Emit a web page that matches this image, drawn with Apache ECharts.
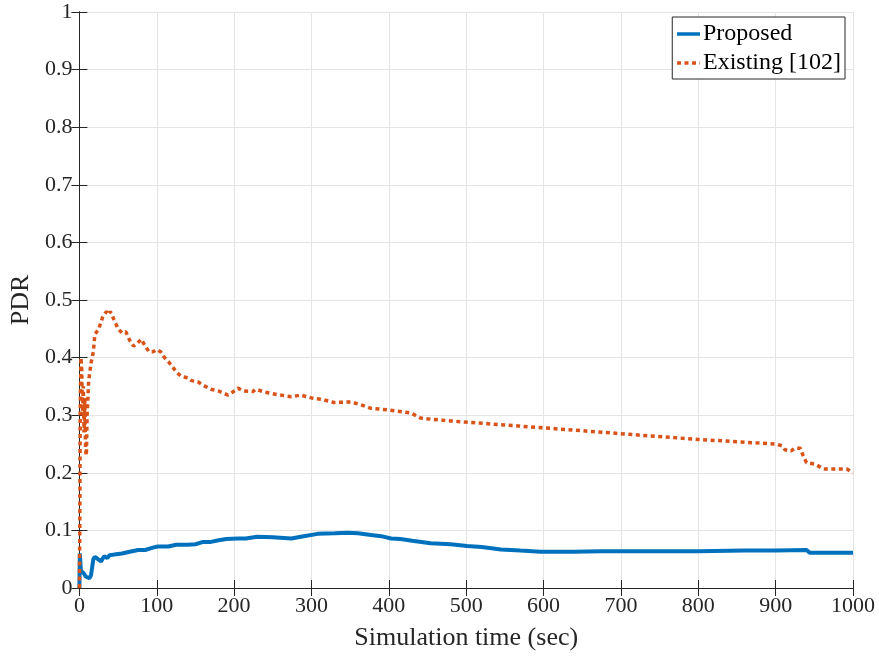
<!DOCTYPE html>
<html>
<head>
<meta charset="utf-8">
<script src="https://cdn.jsdelivr.net/npm/echarts@6/dist/echarts.min.js"></script>
<style>
  html, body { margin: 0; padding: 0; background: #fff; }
  #chart { width: 879px; height: 656px; }
</style>
</head>
<body>
<div id="chart"></div>
<script>
// values
const seriesNames = ['Proposed', 'Existing [102]'];

const propX = [0, 0.5, 1, 2, 4, 6, 8, 10, 13, 15, 18, 20, 24, 28, 32, 36, 39, 45, 55, 65, 76, 85, 95, 101, 115, 125, 140, 150, 160, 170, 180, 190, 205, 215, 230, 250, 274, 290, 308, 330, 347, 360, 377, 390, 403, 415, 430, 454, 480, 501, 520, 545, 570, 596, 640, 674, 738, 800, 860, 900, 940, 944, 1000];
const propY = [0, 0.06, 0.05, 0.03, 0.03, 0.025, 0.02, 0.022, 0.017, 0.022, 0.05, 0.054, 0.05, 0.046, 0.055, 0.052, 0.057, 0.058, 0.06, 0.063, 0.066, 0.066, 0.07, 0.072, 0.072, 0.075, 0.075, 0.076, 0.08, 0.08, 0.083, 0.085, 0.086, 0.086, 0.089, 0.088, 0.086, 0.09, 0.094, 0.095, 0.096, 0.095, 0.092, 0.09, 0.086, 0.085, 0.082, 0.0776, 0.076, 0.073, 0.071, 0.067, 0.065, 0.063, 0.063, 0.0637, 0.0637, 0.064, 0.065, 0.065, 0.066, 0.0613, 0.0613];

const existX = [0, 0.5, 1, 2, 3, 4, 5, 6, 7, 8, 9, 10, 12, 15, 18, 20, 25, 30, 35, 38, 40, 45, 50, 55, 60, 65, 70, 75, 80, 85, 90, 95, 100, 105, 110, 115, 120, 125, 132, 140, 145, 153, 160, 170, 180, 192, 198, 205, 212, 224, 228, 240, 255, 274, 286, 300, 315, 329, 351, 364, 377, 400, 428, 441, 455, 480, 540, 600, 660, 738, 800, 860, 900, 908, 912, 920, 925, 932, 936, 940, 951, 962, 992, 1000];
const existY = [0, 0.1, 0.3, 0.4, 0.38, 0.3, 0.35, 0.27, 0.33, 0.24, 0.23, 0.3, 0.36, 0.39, 0.41, 0.44, 0.45, 0.47, 0.48, 0.475, 0.48, 0.465, 0.45, 0.443, 0.445, 0.43, 0.42, 0.425, 0.432, 0.42, 0.41, 0.41, 0.414, 0.41, 0.4, 0.393, 0.385, 0.375, 0.367, 0.365, 0.36, 0.358, 0.352, 0.345, 0.342, 0.335, 0.34, 0.347, 0.342, 0.341, 0.345, 0.34, 0.336, 0.332, 0.335, 0.33, 0.327, 0.322, 0.323, 0.318, 0.312, 0.309, 0.304, 0.295, 0.293, 0.29, 0.284, 0.278, 0.272, 0.264, 0.258, 0.253, 0.25, 0.247, 0.24, 0.238, 0.243, 0.2425, 0.228, 0.2175, 0.215, 0.2066, 0.2066, 0.2];

const xTicks = [0, 100, 200, 300, 400, 500, 600, 700, 800, 900, 1000];
const yTicks = [0, 0.1, 0.2, 0.3, 0.4, 0.5, 0.6, 0.7, 0.8, 0.9, 1];

function pairs(xs, ys) {
    return xs.map((x, i) => [x, ys[i]]);
}

// pick the tick label that matches an axis value
function tickText(list) {
    return v => {
        let hit = list.find(t => Math.abs(t - v) < 1e-9);
        return hit === undefined ? '' : String(hit);
    };
}

const fontFam = 'Liberation Serif';
const axisColor = '#262626';
const gridColor = '#e5e5e5';

let chart = echarts.init(document.getElementById('chart'), null, { renderer: 'canvas' });

let option = {
    backgroundColor: '#fff',
    animation: false,
    textStyle: { fontFamily: fontFam },
    grid: { left: 78, right: 26, top: 12, bottom: 68, containLabel: false },
    legend: {
        orient: 'vertical',
        right: 34,
        top: 17,
        data: seriesNames,
        backgroundColor: '#fff',
        borderColor: axisColor,
        borderWidth: 1,
        borderRadius: 0,
        padding: [5, 4, 4, 3],
        itemGap: 5,
        itemWidth: 23,
        itemHeight: 24,
        itemStyle: { opacity: 0 },
        lineStyle: { width: 3.5 },
        textStyle: { fontFamily: fontFam, fontSize: 24, color: '#000', padding: [0, 0, 0, -2] }
    },
    xAxis: [{
        type: 'value',
        min: 0, max: 1000, interval: 100,
        name: 'Simulation time (sec)',
        nameLocation: 'middle',
        nameGap: 37,
        nameTextStyle: { fontFamily: fontFam, fontSize: 26, color: axisColor },
        axisLine: { show: true, onZero: false, lineStyle: { color: axisColor, width: 1 } },
        axisTick: { show: true, inside: true, length: 8, lineStyle: { color: axisColor } },
        axisLabel: { fontFamily: fontFam, fontSize: 22, color: axisColor, margin: 7, formatter: tickText(xTicks) },
        splitLine: { show: true, lineStyle: { color: gridColor, width: 1 } }
    }, {
        type: 'value', position: 'top',
        min: 0, max: 1000, interval: 100,
        axisLine: { show: true, lineStyle: { color: axisColor, width: 1 } },
        axisTick: { show: true, inside: true, length: 8, lineStyle: { color: axisColor } },
        axisLabel: { show: false },
        splitLine: { show: false }
    }],
    yAxis: [{
        type: 'value',
        min: 0, max: 1, interval: 0.1,
        name: 'PDR',
        nameLocation: 'middle',
        nameGap: 41,
        nameRotate: 90,
        nameTextStyle: { fontFamily: fontFam, fontSize: 26, color: axisColor },
        axisLine: { show: true, onZero: false, lineStyle: { color: axisColor, width: 1 } },
        axisTick: { show: true, inside: true, length: 8, lineStyle: { color: axisColor } },
        axisLabel: { fontFamily: fontFam, fontSize: 22, color: axisColor, margin: 7, formatter: tickText(yTicks) },
        splitLine: { show: true, lineStyle: { color: gridColor, width: 1 } }
    }, {
        type: 'value', position: 'right',
        min: 0, max: 1, interval: 0.1,
        axisLine: { show: true, lineStyle: { color: axisColor, width: 1 } },
        axisTick: { show: true, inside: true, length: 8, lineStyle: { color: axisColor } },
        axisLabel: { show: false },
        splitLine: { show: false }
    }],
    series: [{
        name: seriesNames[0],
        type: 'line',
        data: pairs(propX, propY),
        showSymbol: false,
        symbol: 'none',
        lineStyle: { color: '#0072BD', width: 4 },
        itemStyle: { color: '#0072BD' },
        z: 3
    }, {
        name: seriesNames[1],
        type: 'line',
        data: pairs(existX, existY),
        showSymbol: false,
        symbol: 'none',
        lineStyle: { color: '#D95319', width: 3.5, type: [4, 3.5] },
        itemStyle: { color: '#D95319' },
        z: 4
    }]
};

chart.setOption(option);
</script>
</body>
</html>
